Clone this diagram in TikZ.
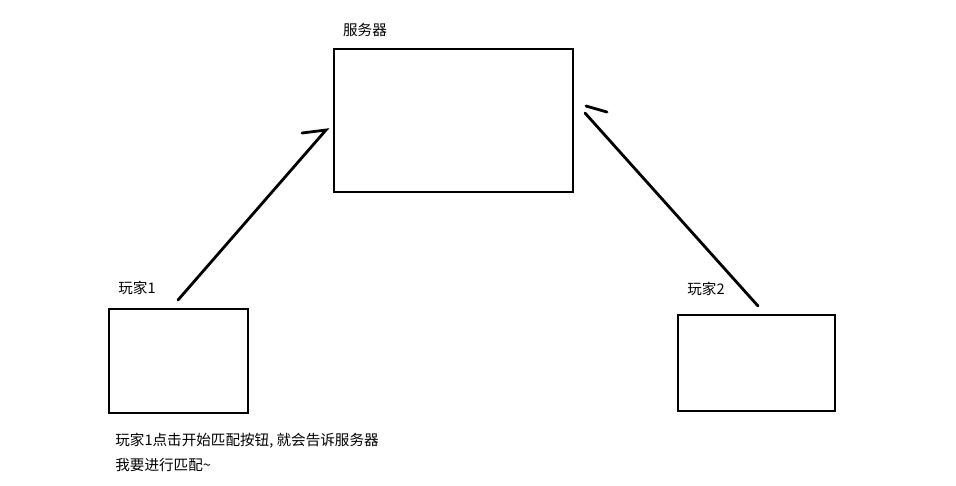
\documentclass[tikz,border=0pt]{standalone}
\usepackage{fontspec}
\newfontfamily\cjk{Noto Sans CJK SC}
\usetikzlibrary{positioning}

\begin{document}
\begin{tikzpicture}[
  x=0.02cm, y=-0.02cm,
  box/.style={draw, line width=1.6pt, inner sep=0pt},
  lbl/.style={font=\cjk\fontsize{8.3}{14.2}\selectfont, inner sep=0pt, align=left},
  hand/.style={line width=1.6pt, line cap=round}
]
\useasboundingbox (0,0) rectangle (956,485);
% boxes
\node[box, minimum width=4.78cm, minimum height=2.86cm] (server) at (453.5,120.5) {};
\node[box, minimum width=2.78cm, minimum height=2.08cm] (p1) at (178.5,361) {};
\node[box, minimum width=3.14cm, minimum height=1.92cm] (p2) at (756.5,363) {};
% labels
\node[lbl] (serverlbl) at (365,30) {服务器};
\node[lbl] (p1lbl) at (137,288) {玩家1};
\node[lbl] (p2lbl) at (706,289) {玩家2};
\node[lbl, anchor=north west] (note) at (115,433) {玩家1点击开始匹配按钮, 就会告诉服务器\\我要进行匹配\textasciitilde};
% hand drawn arrows
\coordinate (tail1) at (178,300);
\coordinate (tip1) at (326,130);
\coordinate (barb1) at (302,133);
\coordinate (tail2) at (758,306);
\coordinate (tip2) at (585,113);
\coordinate (barb2a) at (586,106);
\coordinate (barb2b) at (607,112);
\draw[hand] (tail1) -- (tip1) -- (barb1);
\draw[hand] (tail2) -- (tip2);
\draw[hand] (barb2a) -- (barb2b);
\end{tikzpicture}
\end{document}
